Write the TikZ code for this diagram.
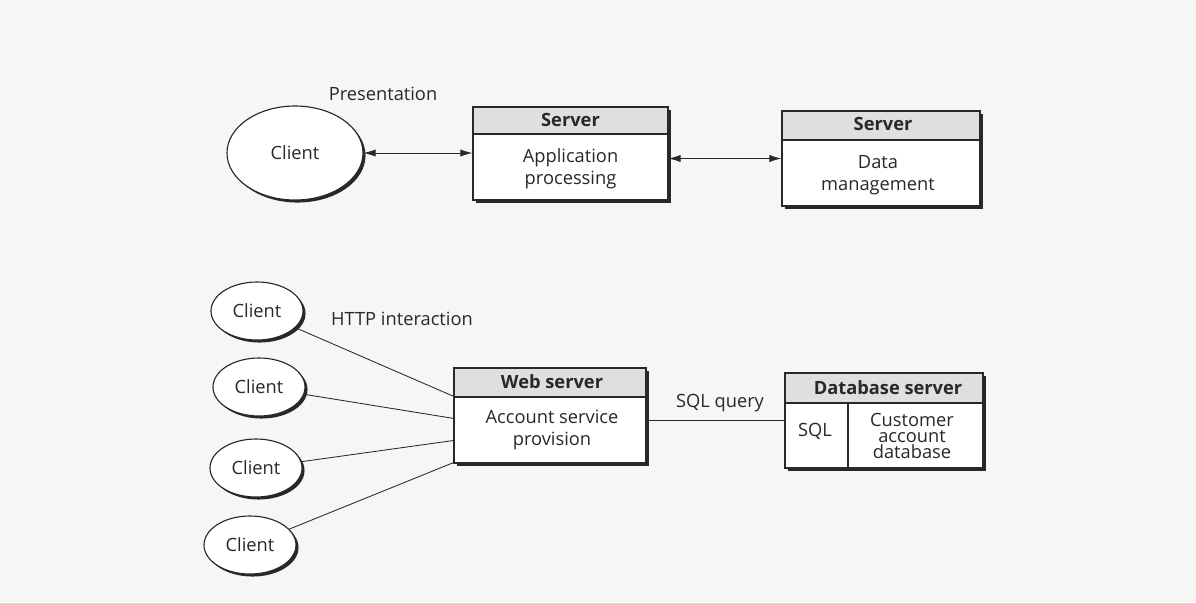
\documentclass[tikz,border=0pt]{standalone}
\usepackage{fontspec}
\setmainfont{Open Sans}
\definecolor{paper}{RGB}{247,245,246}
\definecolor{headgray}{RGB}{224,222,223}
\definecolor{inkgray}{RGB}{40,40,40}
\usetikzlibrary{arrows.meta,positioning,shapes.geometric,shadows,calc}

\begin{document}
\begin{tikzpicture}[x=0.25mm, y=-0.25mm, every node/.style={font=\fontsize{13}{15.6}\selectfont, text=inkgray},
  client/.style={ellipse, draw=inkgray, thick, fill=white, minimum width=23mm, minimum height=14.5mm,
    drop shadow={shadow xshift=1.8pt, shadow yshift=-1.8pt, fill=inkgray, opacity=1}},
  srvbox/.style={rectangle, draw=inkgray, thick, fill=white,
    drop shadow={shadow xshift=2.2pt, shadow yshift=-2.2pt, fill=inkgray, opacity=1},
    path picture={\fill[headgray] (path picture bounding box.north west) rectangle ([yshift=-#1]path picture bounding box.north east);
      \draw[inkgray, thick] ([yshift=-#1]path picture bounding box.north west) -- ([yshift=-#1]path picture bounding box.north east);}},
  head/.style={font=\fontsize{13}{15.6}\selectfont\bfseries},
  body/.style={align=center},
  link/.style={draw=inkgray, semithick},
  arr/.style={link, {Latex[length=3mm,width=1.8mm]}-{Latex[length=3mm,width=1.8mm]}}]
\fill[paper] (0,0) rectangle (1196,602);
\useasboundingbox (0,0) rectangle (1196,602);
% Three-tier model
\node[client, minimum width=34mm, minimum height=23.5mm] (top) at (295,153) {Client};
\node (pres) at (383,94) {Presentation};
\node[srvbox=6.75mm, minimum width=48.75mm, minimum height=23.25mm] (app) at (570.5,153.5) {};
\node[head] (apphd) at (570.5,120) {Server};
\node[body] (appbd) at (570.5,169) {Application\\processing};
\node[srvbox=7.25mm, minimum width=49.5mm, minimum height=23.75mm] (data) at (881,158.5) {};
\node[head] (datahd) at (883,124) {Server};
\node[body] (databd) at (878,175) {Data\\management};
\draw[arr] (top) -- (app.west |- top);
\draw[arr] (app.east |- data.west) -- (data.west);
% Thin-client web system
\node[client] (c1) at (257,311) {Client};
\node[client] (c2) at (259,387) {Client};
\node[client] (c3) at (256,468) {Client};
\node[client] (c4) at (250,545) {Client};
\node (http) at (402,319) {HTTP interaction};
\node[srvbox=7.25mm, minimum width=48mm, minimum height=23.75mm] (web) at (550,415.5) {};
\node[head] (webhd) at (552,382) {Web server};
\node[body] (webbd) at (552,430) {Account service\\provision};
\node[srvbox=7.5mm, minimum width=49.5mm, minimum height=23.75mm] (db) at (884,420.5) {};
\node[head] (dbhd) at (888,388) {Database server};
\node (sql) at (815,431) {SQL};
\node[body, font=\fontsize{13}{11.5}\selectfont] (dbbd) at (912,436) {Customer\\account\\database};
\draw[link, thick] (db.north west -| 848,0) ++(0,30) coordinate (dv) -- (dv |- db.south);
\node (query) at (720,403) {SQL query};
\foreach \i/\f in {1/0.3, 2/0.53, 3/0.76, 4/0.99}
  \draw[link] (c\i) -- ($(web.north west)!\f!(web.south west)$) coordinate (w\i);
\draw[link] (web.east |- db.west) -- (db.west);
\end{tikzpicture}
\end{document}
